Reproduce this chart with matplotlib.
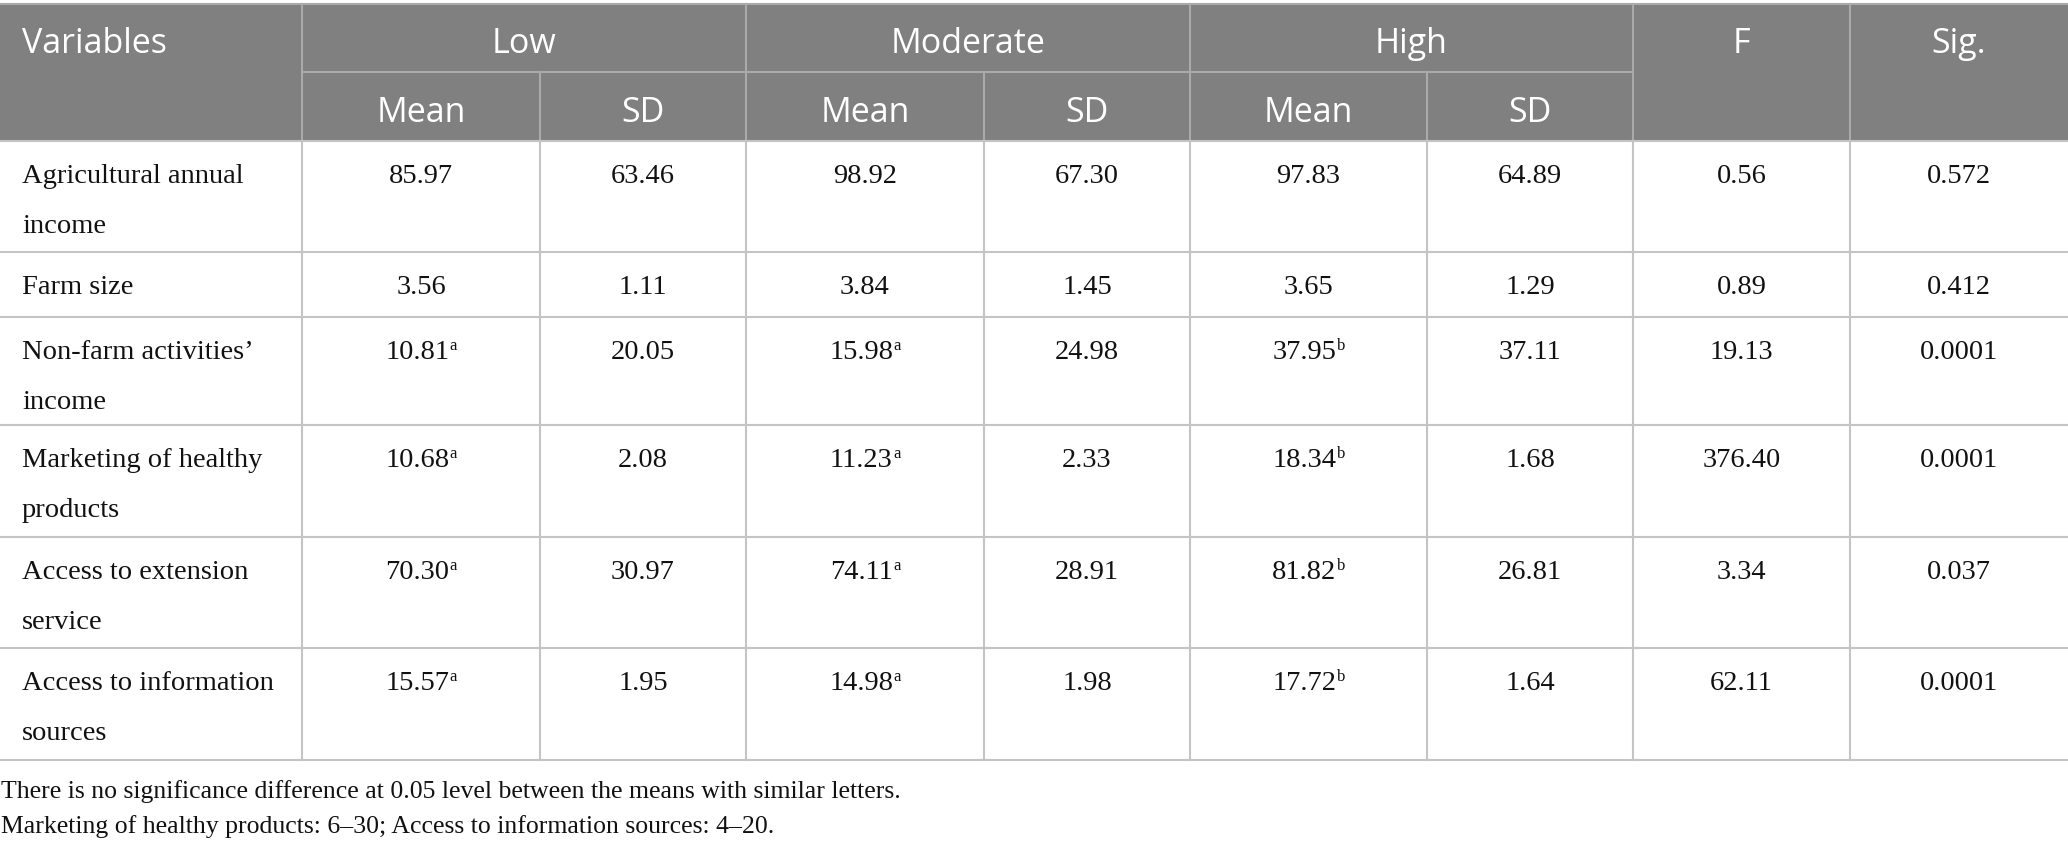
import matplotlib
matplotlib.use("Agg")
import matplotlib.pyplot as plt

# ---------------- data ----------------
variables = ["Agricultural annual\nincome", "Farm size", "Non-farm activities\u2019\nincome",
             "Marketing of healthy\nproducts", "Access to extension\nservice",
             "Access to information\nsources"]
low_mean = [85.97, 3.56, 10.81, 10.68, 70.30, 15.57]
low_sup = ["", "", "a", "a", "a", "a"]
low_sd = [63.46, 1.11, 20.05, 2.08, 30.97, 1.95]
mod_mean = [98.92, 3.84, 15.98, 11.23, 74.11, 14.98]
mod_sup = ["", "", "a", "a", "a", "a"]
mod_sd = [67.30, 1.45, 24.98, 2.33, 28.91, 1.98]
high_mean = [97.83, 3.65, 37.95, 18.34, 81.82, 17.72]
high_sup = ["", "", "b", "b", "b", "b"]
high_sd = [64.89, 1.29, 37.11, 1.68, 26.81, 1.64]
f_values = [0.56, 0.89, 19.13, 376.40, 3.34, 62.11]
sig_values = ["0.572", "0.412", "0.0001", "0.0001", "0.037", "0.0001"]
groups = ["Low", "Moderate", "High"]
sub_headers = ["Mean", "SD"]
footnotes = ["There is no significance difference at 0.05 level between the means with similar letters.",
             "Marketing of healthy products: 6\u201330; Access to information sources: 4\u201320."]

# ---------------- layout ----------------
W, H = 2068, 849
col_edges = [0, 302, 540, 746, 984, 1190, 1427, 1633, 1850, 2068]
h_top, h_mid, h_bot = 4, 72, 141
row_edges = [141, 252, 317, 425, 537, 648, 760]

HEAD_BG = "#7f807f"
HEAD_LINE = "#a9aaa9"
BODY_LINE = "#c4c4c4"
TXT = "#111111"
SERIF = ["Liberation Serif", "DejaVu Serif"]
SANS = ["Open Sans", "DejaVu Sans"]
BODY_FS = 20.5
HEAD_FS = 24.5
SUP_FS = 12
FOOT_FS = 18.5

fig = plt.figure(figsize=(W / 100, H / 100), dpi=100)
ax = fig.add_axes([0, 0, 1, 1])
ax.set_xlim(0, W)
ax.set_ylim(H, 0)
ax.axis("off")

# header background
ax.add_patch(plt.Rectangle((0, h_top), W, h_bot - h_top, color=HEAD_BG, lw=0, zorder=1))

lw = 1.5
# header lines
ax.plot([0, W], [h_top, h_top], color=HEAD_LINE, lw=lw, zorder=2)
ax.plot([col_edges[1], col_edges[7]], [h_mid, h_mid], color=HEAD_LINE, lw=lw, zorder=2)
for i in [1, 3, 5, 7, 8]:
    ax.plot([col_edges[i]] * 2, [h_top, h_bot], color=HEAD_LINE, lw=lw, zorder=2)
for i in [2, 4, 6]:
    ax.plot([col_edges[i]] * 2, [h_mid, h_bot], color=HEAD_LINE, lw=lw, zorder=2)

# body lines
for y in row_edges:
    ax.plot([0, W], [y, y], color=BODY_LINE, lw=lw, zorder=2)
for x in col_edges[1:-1]:
    ax.plot([x, x], [row_edges[0], row_edges[-1]], color=BODY_LINE, lw=lw, zorder=2)

# header text
hb1 = 53
hb2 = 122
ax.text(22, hb1, "Variables", fontsize=HEAD_FS, family=SANS, color="white", va="baseline", ha="left", zorder=3)
for g, name in enumerate(groups):
    cx = (col_edges[1 + 2 * g] + col_edges[3 + 2 * g]) / 2
    ax.text(cx, hb1, name, fontsize=HEAD_FS, family=SANS, color="white", va="baseline", ha="center", zorder=3)
    for s, sub in enumerate(sub_headers):
        c = 1 + 2 * g + s
        ax.text((col_edges[c] + col_edges[c + 1]) / 2, hb2, sub, fontsize=HEAD_FS, family=SANS,
                color="white", va="baseline", ha="center", zorder=3)
ax.text((col_edges[7] + col_edges[8]) / 2, hb1, "F", fontsize=HEAD_FS, family=SANS, color="white",
        va="baseline", ha="center", zorder=3)
ax.text((col_edges[8] + col_edges[9]) / 2, hb1, "Sig.", fontsize=HEAD_FS, family=SANS, color="white",
        va="baseline", ha="center", zorder=3)

# body text
renderer = fig.canvas.get_renderer()
inv = ax.transData.inverted()


def text_width(s, fs):
    t = ax.text(0, 0, s, fontsize=fs, family=SERIF)
    bb = t.get_window_extent(renderer=renderer)
    t.remove()
    return bb.width


def cell(col, base, value, sup=""):
    cx = (col_edges[col] + col_edges[col + 1]) / 2
    if not sup:
        ax.text(cx, base, value, fontsize=BODY_FS, family=SERIF, color=TXT, va="baseline", ha="center", zorder=3)
        return
    wm = text_width(value, BODY_FS)
    ws = text_width(sup, SUP_FS)
    x0 = cx - (wm + ws) / 2
    ax.text(x0, base, value, fontsize=BODY_FS, family=SERIF, color=TXT, va="baseline", ha="left", zorder=3)
    ax.text(x0 + wm + 0.5, base - 9, sup, fontsize=SUP_FS, family=SERIF, color=TXT, va="baseline",
            ha="left", zorder=3)


line_gap = 50
for r in range(len(variables)):
    base = row_edges[r] + 42
    for k, line in enumerate(variables[r].split("\n")):
        ax.text(22, base + k * line_gap, line, fontsize=BODY_FS, family=SERIF, color=TXT,
                va="baseline", ha="left", zorder=3)
    cell(1, base, f"{low_mean[r]:.2f}", low_sup[r])
    cell(2, base, f"{low_sd[r]:.2f}")
    cell(3, base, f"{mod_mean[r]:.2f}", mod_sup[r])
    cell(4, base, f"{mod_sd[r]:.2f}")
    cell(5, base, f"{high_mean[r]:.2f}", high_sup[r])
    cell(6, base, f"{high_sd[r]:.2f}")
    cell(7, base, f"{f_values[r]:.2f}")
    cell(8, base, sig_values[r])

# footnotes
for k, note in enumerate(footnotes):
    ax.text(1, 798 + 35 * k, note, fontsize=FOOT_FS, family=SERIF, color=TXT, va="baseline", ha="left")

fig.savefig("out.png", dpi=100, facecolor="white")
